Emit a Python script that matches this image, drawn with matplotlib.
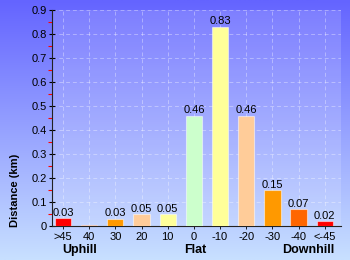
import numpy as np
import matplotlib
matplotlib.use("Agg")
import matplotlib.pyplot as plt
from matplotlib.colors import LinearSegmentedColormap

# ==============================
# Datos
# ==============================
categorias = [">45", "40", "30", "20", "10", "0", "-10", "-20", "-30", "-40", "<-45"]
distancia = [0.032, 0.004, 0.03, 0.05, 0.05, 0.46, 0.83, 0.46, 0.15, 0.07, 0.02]
colores = ["#ff0000", "#ff6600", "#ff9900", "#ffcc99", "#ffff99", "#ccffcc",
           "#ffff99", "#ffcc99", "#ff9900", "#ff6600", "#ff0000"]
grupos = ["Uphill", "Flat", "Downhill"]

plt.rcParams["font.family"] = ["Liberation Sans", "DejaVu Sans"]

fig = plt.figure(figsize=(3.5, 2.6), dpi=100)

# fondo degradado
bg = fig.add_axes([0, 0, 1, 1], zorder=-10)
grad = np.linspace(0, 1, 256).reshape(-1, 1)
cmap_bg = LinearSegmentedColormap.from_list("bg", ["#6464ff", "#c8e0ff"])
bg.imshow(grad, aspect="auto", cmap=cmap_bg, extent=[0, 1, 0, 1], origin="upper")
bg.axis("off")

ax = fig.add_axes([52 / 350, 34 / 260, 289 / 350, 216 / 260])
ax.set_facecolor((1, 1, 1, 0.15))

x = np.arange(len(categorias))
ax.bar(x, distancia, width=0.62, color=colores,
       edgecolor=(1, 1, 1, 0.5), linewidth=0.8, zorder=3)

# etiquetas de valor (se omiten las que redondean a 0.00)
for xi, v in zip(x, distancia):
    if round(v, 2) > 0:
        ax.text(xi, v + 0.002, f"{v:.2f}", ha="center", va="bottom",
                fontsize=8, color="black", zorder=4)

ax.set_xlim(-0.42, 10.62)
ax.set_ylim(0, 0.9)
ax.set_xticks(x)
ax.set_xticklabels(categorias, fontsize=8)
yt = np.arange(0, 0.91, 0.1)
ax.set_yticks(yt)
ax.set_yticklabels(["0"] + [f"{t:.1f}" for t in yt[1:]], fontsize=8)
ax.set_yticks(np.arange(0.05, 0.9, 0.1), minor=True)
ax.tick_params(axis="y", which="major", direction="inout", length=5, width=0.8, pad=1)
ax.tick_params(axis="y", which="minor", direction="out", length=3, width=0.8, color="red")
ax.tick_params(axis="x", which="major", direction="out", length=2, width=0.6, pad=2)

ax.grid(True, which="major", color="white", alpha=0.35, linestyle=(0, (4, 3)), linewidth=0.7, zorder=0)
ax.set_axisbelow(True)

for s in ["top", "right"]:
    ax.spines[s].set_visible(False)
ax.spines["left"].set_color("#222222")
ax.spines["bottom"].set_color("#222222")

fig.text(15 / 350, 1 - 190 / 260, "Distance (km)", rotation=90, ha="center", va="center",
         fontsize=8, fontweight="bold")
for g, px in zip(grupos, [80, 195, 308]):
    fig.text(px / 350, 1 - 250 / 260, g, ha="center", va="center",
             fontsize=9, fontweight="bold")

fig.savefig("out.png", dpi=100)
